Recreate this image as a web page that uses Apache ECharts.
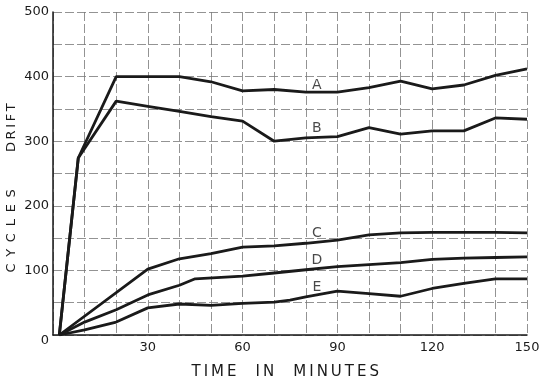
<!DOCTYPE html>
<html>
<head>
<meta charset="utf-8">
<script src="https://cdn.jsdelivr.net/npm/echarts@6/dist/echarts.min.js"></script>
<style>html,body{margin:0;padding:0;background:#fff}#c{width:547px;height:381px}</style>
</head>
<body>
<div id="c"></div>
<script>
const timeA = [2, 8, 20, 30, 40, 50, 60, 70, 80, 90, 100, 110, 120, 130, 140, 150];
const driftA = [0, 274, 400, 400, 400, 392, 378, 380, 376, 376, 383, 393, 381, 387, 402, 412];
const timeB = [2, 8, 20, 30, 40, 50, 60, 70, 80, 90, 100, 110, 120, 130, 140, 150];
const driftB = [0, 274, 362, 354, 346, 338, 331, 300, 305, 307, 321, 311, 316, 316, 336, 334];
const timeC = [2, 30, 40, 50, 60, 70, 80, 90, 100, 110, 120, 130, 140, 150];
const driftC = [0, 102, 118, 126, 136, 138, 142, 147, 155, 158, 159, 159, 159, 158];
const timeD = [2, 10, 20, 30, 40, 45, 60, 70, 80, 90, 100, 110, 120, 130, 140, 150];
const driftD = [0, 20, 39, 62, 77, 87, 91, 96, 101, 106, 109, 112, 117, 119, 120, 121];
const timeE = [2, 10, 20, 30, 40, 50, 60, 70, 75, 80, 90, 100, 110, 120, 130, 140, 150];
const driftE = [0, 8, 20, 42, 48, 46, 49, 51, 54, 59, 68, 64, 60, 72, 80, 87, 87];
const curveNames = ['A', 'B', 'C', 'D', 'E'];
const curveLabelX = [83.5, 83.5, 83.5, 83.5, 83.5];
const curveLabelY = [387, 320, 158, 116, 74];

const font = 'DejaVu Sans';
const ink = '#1a1a1a';
const thin = '\u2009';
function spaced(word, sep) { return word.split('').join(sep); }
const xName = spaced('TIME', thin) + '    ' + spaced('IN', thin) + '    ' + spaced('MINUTES', thin) + '  ';
const yName = spaced('CYCLES', ' \u2009') + '         ' + spaced('DRIFT', thin) + '       ';

function pairs(xs, ys) { return xs.map((x, i) => [x, ys[i]]); }
const curves = [[timeA, driftA], [timeB, driftB], [timeC, driftC], [timeD, driftD], [timeE, driftE]];

const chart = echarts.init(document.getElementById('c'), null, {renderer: 'canvas'});
const gridLine = {show: true, lineStyle: {color: '#777', width: 0.8, type: [9, 3]}};
chart.setOption({
  animation: false,
  backgroundColor: '#fff',
  grid: {left: 53, right: 20, top: 12, bottom: 46, containLabel: false, outerBoundsMode: 'none'},
  xAxis: {
    type: 'value', min: 0, max: 150, interval: 10,
    name: xName, nameLocation: 'middle', nameGap: 30, nameMoveOverlap: false,
    nameTextStyle: {fontFamily: font, fontSize: 15, color: ink},
    axisLine: {show: true, lineStyle: {color: ink, width: 1.5}},
    axisTick: {show: false},
    axisLabel: {fontFamily: font, fontSize: 13, color: ink, margin: 6,
      formatter: v => (v > 0 && v % 30 === 0) ? String(v) : ''},
    splitLine: gridLine
  },
  yAxis: {
    type: 'value', min: 0, max: 500, interval: 50,
    name: yName, nameLocation: 'middle', nameGap: 35, nameRotate: 90, nameMoveOverlap: false,
    nameTextStyle: {fontFamily: font, fontSize: 13, color: ink},
    axisLine: {show: true, lineStyle: {color: ink, width: 1.5}},
    axisTick: {show: false},
    axisLabel: {fontFamily: font, fontSize: 13, color: ink, margin: 4,
      formatter: v => v === 0 ? '{z|0}' : (v % 100 === 0 ? String(v) : ''),
      rich: {z: {fontFamily: font, fontSize: 13, color: ink, padding: [12, 0, 0, 0]}}},
    splitLine: gridLine
  },
  series: curves.map((c, i) => ({
    type: 'line', name: curveNames[i], data: pairs(c[0], c[1]),
    symbol: 'none', lineStyle: {color: ink, width: 2.8}, z: 3
  })).concat([{
    type: 'scatter', symbolSize: 0, z: 4,
    data: curveNames.map((n, i) => ({name: n, value: [curveLabelX[i], curveLabelY[i]]})),
    label: {show: true, position: 'inside', formatter: p => p.name,
      fontFamily: font, fontSize: 14, color: ink}
  }])
});
</script>
</body>
</html>
